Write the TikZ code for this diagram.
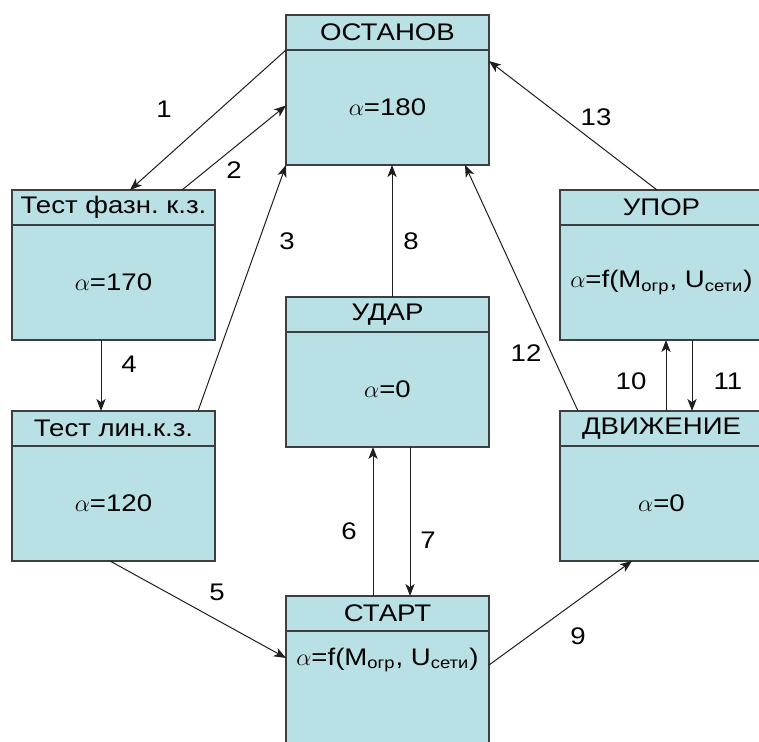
\documentclass[tikz,border=0pt]{standalone}
\usepackage{fontspec}
\setmainfont{Liberation Sans}[FakeStretch=1.15]
\usepackage{tikz}
\usetikzlibrary{arrows.meta,positioning}
\frenchspacing
\definecolor{statefill}{HTML}{B9E0E4}
\definecolor{stateline}{HTML}{3A3F42}
\definecolor{arrowline}{HTML}{1E1E1E}
\tikzset{
  titlebox/.style={draw=stateline, fill=statefill, line width=0.65pt, anchor=north west, outer sep=0pt, minimum width=101.5pt, minimum height=17.5pt, inner sep=0pt, font=\fontsize{12}{14}\selectfont},
  bodybox/.style={draw=stateline, fill=statefill, line width=0.65pt, outer sep=0pt, minimum width=101.5pt, minimum height=57.5pt, inner sep=0pt, align=center, font=\fontsize{12}{14}\selectfont},
  edge/.style={-{Stealth[length=6pt,width=4.6pt,inset=1.6pt]}, line width=0.5pt, draw=arrowline},
  num/.style={inner sep=0pt, font=\fontsize{12}{14}\selectfont}
}

\begin{document}
\begin{tikzpicture}[x=0.5pt, y=-0.5pt]
  \useasboundingbox (0,0) rectangle (759,742);
  % states: title band with the body below it
  \node[titlebox] (ostanov-t) at (286,15) {ОСТАНОВ};
  \node[bodybox, below=0pt of ostanov-t] (ostanov) {$\alpha$=180};
  \node[titlebox] (fazn-t) at (12,190) {Тест фазн. к.з.};
  \node[bodybox, below=0pt of fazn-t] (fazn) {$\alpha$=170};
  \node[titlebox] (lin-t) at (12,411) {Тест лин.к.з.};
  \node[bodybox, below=0pt of lin-t] (lin) {$\alpha$=120};
  \node[titlebox] (udar-t) at (286,297) {УДАР};
  \node[bodybox, below=0pt of udar-t] (udar) {$\alpha$=0};
  \node[titlebox] (upor-t) at (560,190) {УПОР};
  \node[bodybox, below=0pt of upor-t] (upor) {$\alpha$=f(M\textsubscript{огр}, U\textsubscript{сети})};
  \node[titlebox] (dvizh-t) at (560,411) {ДВИЖЕНИЕ};
  \node[bodybox, below=0pt of dvizh-t] (dvizh) {$\alpha$=0};
  \node[titlebox] (start-t) at (286,596) {СТАРТ};
  \node[bodybox, below=0pt of start-t, text depth=32pt] (start) {$\alpha$=f(M\textsubscript{огр}, U\textsubscript{сети})};

  % transitions
  \draw[edge] (ostanov-t.south west) -- ([xshift=8.25pt]fazn-t.north);
  \draw[edge] ([xshift=34.25pt]fazn-t.north) -- ([yshift=1pt]ostanov.west);
  \draw[edge] ([xshift=42.25pt]lin-t.north) -- (ostanov.south west);
  \draw[edge] ([xshift=-6.25pt]fazn.south) -- ([xshift=-6.25pt]lin-t.north);
  \draw[edge] ([xshift=-1.75pt]lin.south) -- ([yshift=-13.5pt]start.north west);
  \draw[edge] ([xshift=-7.25pt]start-t.north) -- ([xshift=-7.25pt]udar.south);
  \draw[edge] ([xshift=11.25pt]udar.south) -- ([xshift=11.25pt]start-t.north);
  \draw[edge] ([xshift=2.25pt]udar-t.north) -- ([xshift=2.25pt]ostanov.south);
  \draw[edge] ([yshift=-17pt]start.north east) -- ([xshift=-14.75pt]dvizh.south);
  \draw[edge] ([xshift=2.25pt]dvizh-t.north) -- ([xshift=2.25pt]upor.south);
  \draw[edge] ([xshift=15.25pt]upor.south) -- ([xshift=15.25pt]dvizh-t.north);
  \draw[edge] ([xshift=-41.75pt]dvizh-t.north) -- ([xshift=38.75pt]ostanov.south);
  \draw[edge] ([xshift=-2.25pt]upor-t.north) -- ([yshift=-5.5pt]ostanov.north east);

  % transition numbers
  \foreach \n/\x/\y in {1/164/109, 2/234/170, 3/287/241, 4/129/364, 5/217/592,
      6/349/531, 7/428/540, 8/411/241, 9/578/636, 10/631/381, 11/728/381,
      12/526/353, 13/596/117}
    \node[num] (l\n) at (\x,\y) {\n};
\end{tikzpicture}
\end{document}
